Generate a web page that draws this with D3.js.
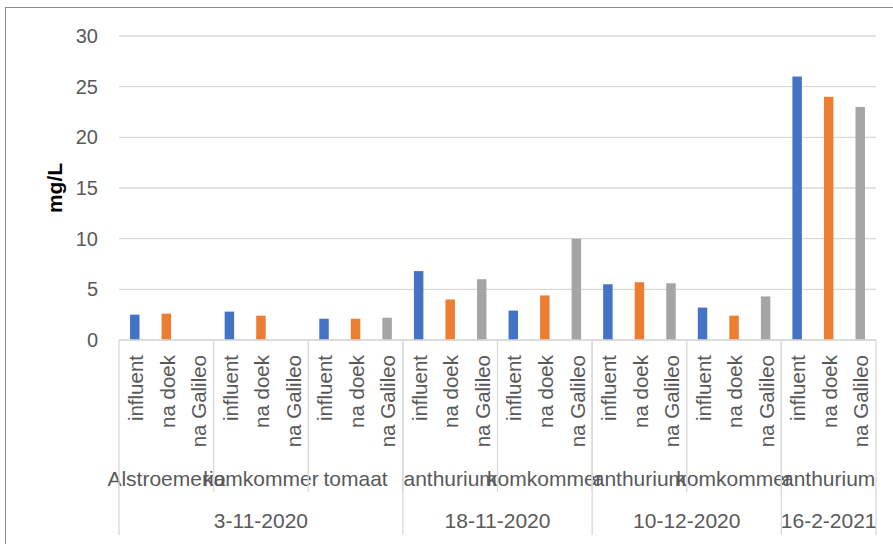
<!DOCTYPE html>
<html>
<head>
<meta charset="utf-8">
<title>mg/L per behandelingsstap</title>
<script src="https://d3js.org/d3.v7.min.js"></script>
<style type="text/css">
body {
  margin: 0;
  background: #fff;
}
svg text {
  font-family: "Liberation Sans", Arial, sans-serif;
  fill: #595959;
}
.grid line {
  stroke: #d9d9d9;
  stroke-width: 1.3;
}
.sep {
  stroke: #d9d9d9;
  stroke-width: 1.3;
}
</style>
</head>
<body>
<div id="chart"></div>

<script>
// sample dates, crops per date and treatment stages
var dates = ["3-11-2020", "18-11-2020", "10-12-2020", "16-2-2021"];
var cropsPerDate = [
  ["Alstroemeria", "komkommer", "tomaat"],
  ["anthurium", "komkommer"],
  ["anthurium", "komkommer"],
  ["anthurium"]
];
var stages = ["influent", "na doek", "na Galileo"];

// one value per crop group (8 groups), null = not measured
var influent  = [2.5, 2.8, 2.1, 6.8, 2.9, 5.5, 3.2, 26];
var naDoek    = [2.6, 2.4, 2.1, 4.0, 4.4, 5.7, 2.4, 24];
var naGalileo = [null, null, 2.2, 6.0, 10.0, 5.6, 4.3, 23];

var yTicks = [0, 5, 10, 15, 20, 25, 30];
var colors = ["#4472c4", "#ed7d31", "#a5a5a5"];

var width = 893, height = 544;
var plot = {left: 119, right: 876, top: 36, bottom: 340};

// flatten to one row per bar slot
var series = [influent, naDoek, naGalileo];
var groups = [];
cropsPerDate.forEach(function(crops, di) {
  crops.forEach(function(c) { groups.push({date: di, crop: c}); });
});
var slots = [];
groups.forEach(function(g, gi) {
  stages.forEach(function(s, si) {
    slots.push({id: gi + "-" + si, group: gi, stage: si, label: s, value: series[si][gi]});
  });
});

var svg = d3.select("#chart").append("svg")
    .attr("width", width)
    .attr("height", height);

// chart border
svg.append("rect")
    .attr("x", 5.5).attr("y", 7.5)
    .attr("width", width + 10).attr("height", height)
    .attr("fill", "none")
    .attr("stroke", "#8c8c8c");

var x = d3.scaleBand()
    .domain(slots.map(function(d) { return d.id; }))
    .range([plot.left, plot.right]);

var y = d3.scaleLinear()
    .domain([0, 30])
    .range([plot.bottom, plot.top]);

// gridlines
svg.append("g")
    .attr("class", "grid")
  .selectAll("line")
    .data(yTicks)
  .enter().append("line")
    .attr("x1", plot.left).attr("x2", plot.right)
    .attr("y1", function(d) { return y(d); })
    .attr("y2", function(d) { return y(d); });

// y axis labels
var yAxis = svg.append("g")
    .attr("transform", "translate(" + (plot.left - 21) + ",0)")
    .call(d3.axisLeft(y).tickValues(yTicks).tickSize(0).tickPadding(0));
yAxis.select(".domain").remove();
yAxis.selectAll("text")
    .style("font-size", "20px")
    .attr("fill", "#595959");

svg.append("text")
    .attr("transform", "translate(62,188) rotate(-90)")
    .attr("text-anchor", "middle")
    .style("font-size", "21px")
    .style("font-weight", "bold")
    .style("fill", "#000")
    .text("mg/L");

// bars
var barW = x.bandwidth() * 0.3;
svg.append("g").selectAll("rect")
    .data(slots.filter(function(d) { return d.value != null; }))
  .enter().append("rect")
    .attr("x", function(d) { return x(d.id) + (x.bandwidth() - barW) / 2; })
    .attr("y", function(d) { return y(d.value); })
    .attr("width", barW)
    .attr("height", function(d) { return y(0) - y(d.value); })
    .attr("fill", function(d) { return colors[d.stage]; });

// stage labels (rotated)
svg.append("g").selectAll("text")
    .data(slots)
  .enter().append("text")
    .attr("transform", function(d) {
      return "translate(" + (x(d.id) + x.bandwidth() / 2 + 1) + ",355) rotate(-90)";
    })
    .attr("text-anchor", "end")
    .attr("dy", "0.35em")
    .style("font-size", "20.5px")
    .text(function(d) { return d.label; });

// crop labels and separators
var groupW = x.bandwidth() * stages.length;
svg.append("g").selectAll("text")
    .data(groups)
  .enter().append("text")
    .attr("x", function(d, i) { return x(i + "-0") + groupW / 2; })
    .attr("y", 486)
    .attr("text-anchor", "middle")
    .style("font-size", "21px")
    .text(function(d) { return d.crop; });

svg.append("line")
    .attr("class", "sep")
    .attr("x1", plot.left).attr("x2", plot.right)
    .attr("y1", plot.bottom).attr("y2", plot.bottom);

svg.append("g").selectAll("line")
    .data(groups.slice(1))
  .enter().append("line")
    .attr("class", "sep")
    .attr("x1", function(d, i) { return x((i + 1) + "-0"); })
    .attr("x2", function(d, i) { return x((i + 1) + "-0"); })
    .attr("y1", plot.bottom)
    .attr("y2", 492);

// date labels and separators
var dateStart = [];
var k = 0;
cropsPerDate.forEach(function(c) { dateStart.push(k); k += c.length; });
dateStart.push(k);

svg.append("g").selectAll("line")
    .data(dateStart)
  .enter().append("line")
    .attr("class", "sep")
    .attr("x1", function(d) { return d < groups.length ? x(d + "-0") : plot.right; })
    .attr("x2", function(d) { return d < groups.length ? x(d + "-0") : plot.right; })
    .attr("y1", plot.bottom)
    .attr("y2", 535);

svg.append("g").selectAll("text")
    .data(dates)
  .enter().append("text")
    .attr("x", function(d, i) {
      var a = x(dateStart[i] + "-0");
      var b = dateStart[i + 1] < groups.length ? x(dateStart[i + 1] + "-0") : plot.right;
      return (a + b) / 2;
    })
    .attr("y", 528)
    .attr("text-anchor", "middle")
    .style("font-size", "21px")
    .text(function(d) { return d; });
</script>
</body>
</html>
